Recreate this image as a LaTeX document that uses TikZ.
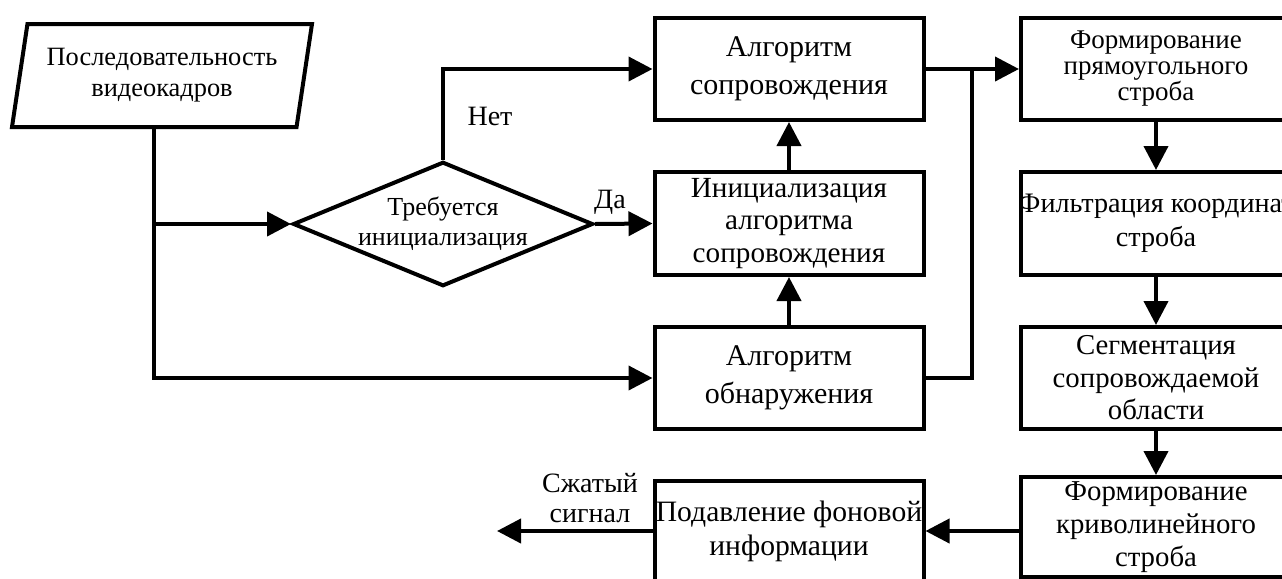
\documentclass[tikz,border=0pt]{standalone}
\usepackage{fontspec}
\setmainfont{Liberation Serif}
\usetikzlibrary{arrows.meta,shapes.geometric,calc}
\begin{document}
\begin{tikzpicture}[x=0.5pt,y=-0.5pt,
  box/.style={draw, line width=2pt, minimum width=134.5pt, minimum height=51pt, align=center, inner sep=0pt, font=\fontsize{15}{16}\selectfont},
  arr/.style={-{Triangle[length=12pt,width=12pt]}, line width=2pt},
  ln/.style={line width=2pt},
  lbl/.style={font=\fontsize{14}{15}\selectfont, align=center, inner sep=0pt}]
\useasboundingbox (0,0) rectangle (1282,579);
\clip (0,0) rectangle (1282,579);
\fill[white] (0,0) rectangle (1282,579);
% input parallelogram
\node[trapezium, draw, line width=2pt, trapezium left angle=74, trapezium right angle=106,
  trapezium stretches body, minimum width=150pt, minimum height=51.5pt, inner sep=0pt,
  align=center, font=\fontsize{13.2}{15.5}\selectfont] (seq) at (162,75.5)
  {Последовательность\\видеокадров};
% decision
\node[diamond, draw, line width=2pt, aspect=2.4, inner sep=0pt, minimum width=150pt, minimum height=62pt,
  align=center, font=\fontsize{13}{15}\selectfont] (dia) at (443,224) {Требуется\\инициализация};
% left column
\node[box, font=\fontsize{15}{19}\selectfont] (A) at (789,69) {Алгоритм\\сопровождения};
\node[box, minimum height=51.5pt, font=\fontsize{14.6}{16.2}\selectfont] (I) at (789,223.5) {Инициализация\\алгоритма\\сопровождения};
\node[box, font=\fontsize{15}{19}\selectfont] (D) at (789,378) {Алгоритм\\обнаружения};
\node[box, minimum height=50pt, font=\fontsize{14.8}{17}\selectfont] (P) at (789,531) {Подавление фоновой\\информации};
% right column
\node[box, minimum width=135pt, font=\fontsize{13.5}{13}\selectfont] (R1) at (1156,69) {Формирование\\прямоугольного\\строба};
\node[box, minimum width=135pt, minimum height=51.5pt, font=\fontsize{14.1}{17}\selectfont] (R2) at (1156,223.5) {\makebox[0pt]{Фильтрация координат}\\строба};
\node[box, minimum width=135pt, font=\fontsize{14.4}{16.3}\selectfont] (R3) at (1156,378) {Сегментация\\сопровождаемой\\области};
\node[box, minimum width=135pt, minimum height=50pt, font=\fontsize{14.4}{16.5}\selectfont] (R4) at (1156,527) {Формирование\\криволинейного\\строба};
% labels
\node[lbl] (no) at (490,116) {Нет};
\node[lbl] (yes) at (610,202) {Да};
\node[lbl] (out) at (590,498) {Сжатый\\сигнал};
% connectors
\coordinate (sb) at ($(seq.bottom left corner)!0.5!(seq.bottom right corner)$);
\draw[arr] (sb) -- (sb |- D.west) -- (D.west);
\draw[arr] (sb |- dia.west) -- (dia.west);
\draw[arr] (dia.north) -- (dia.north |- A.west) -- (A.west);
\draw[arr] (dia.east) -- (I.west);
\draw[arr] (D.north) -- (I.south);
\draw[arr] (I.north) -- (A.south);
\coordinate (j) at ($(A.east)!0.5!(R1.west)$);
\draw[arr] (A.east) -- (R1.west);
\draw[ln] (D.east) -- (D.east -| j) -- (j);
\draw[arr] (R1.south) -- (R2.north);
\draw[arr] (R2.south) -- (R3.north);
\draw[arr] (R3.south) -- (R4.north);
\draw[arr] (P.east -| R4.west) -- (P.east);
\coordinate (o) at (497,531);
\draw[arr] (P.west) -- (o);
\end{tikzpicture}
\end{document}
